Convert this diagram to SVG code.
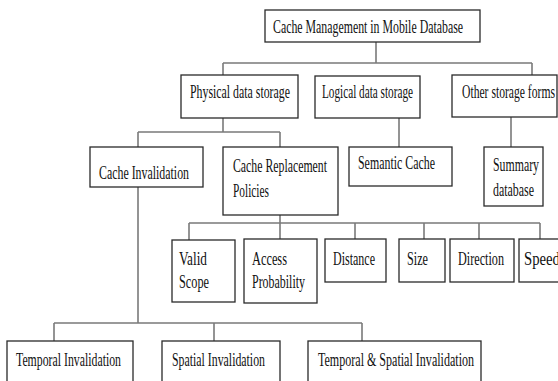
<svg xmlns="http://www.w3.org/2000/svg" width="558" height="381" viewBox="0 0 558 381">
<style>
.box{fill:#fff;stroke:#2a2a2a;stroke-width:1.3}
.con{fill:none;stroke:#7a7a7a;stroke-width:1.6}
text{font-family:"Liberation Serif","Times New Roman",serif;font-size:18px;fill:#111}
</style>
<rect width="558" height="381" fill="#fff"/>
<g id="connectors">
<path class="con" d="M376 42V63M223 63H532M223 63V75M532 63V75"/>
<path class="con" d="M223 118V132M138 132H280M138 132V147M280 132V147"/>
<path class="con" d="M399 118V147M511 117V147"/>
<path class="con" d="M280 215V223M189 223H540M189 223V240M280 223V239M355 223V239M424 223V239M479 223V239M540 223V239"/>
<path class="con" d="M138 187V323M54 323H362M54 323V341M214 323V341M362 323V341"/>
</g>
<g id="root"><rect class="box" x="265" y="10" width="215" height="32"/><text transform="translate(273,33) scale(.66,1)" textLength="287.9" lengthAdjust="spacingAndGlyphs">Cache Management in Mobile Database</text></g>
<g id="physical"><rect class="box" x="181" y="75" width="117" height="43"/><text transform="translate(190,98) scale(.66,1)" textLength="151.5" lengthAdjust="spacingAndGlyphs">Physical data storage</text></g>
<g id="logical"><rect class="box" x="315" y="76" width="105" height="42"/><text transform="translate(322,98) scale(.66,1)" textLength="137.9" lengthAdjust="spacingAndGlyphs">Logical data storage</text></g>
<g id="other"><rect class="box" x="452" y="75" width="105" height="42"/><text transform="translate(462,98) scale(.66,1)" textLength="140.9" lengthAdjust="spacingAndGlyphs">Other storage forms</text></g>
<g id="cache-invalidation"><rect class="box" x="90" y="147" width="113" height="40"/><text transform="translate(99,179) scale(.66,1)" textLength="136.4" lengthAdjust="spacingAndGlyphs">Cache Invalidation</text></g>
<g id="cache-replacement"><rect class="box" x="223" y="147" width="115" height="68"/><text transform="translate(233,172) scale(.66,1)" textLength="142.4" lengthAdjust="spacingAndGlyphs">Cache Replacement</text><text transform="translate(233,197) scale(.66,1)" textLength="54.5" lengthAdjust="spacingAndGlyphs">Policies</text></g>
<g id="semantic"><rect class="box" x="349" y="147" width="103" height="39"/><text transform="translate(358,169) scale(.66,1)" textLength="116.7" lengthAdjust="spacingAndGlyphs">Semantic Cache</text></g>
<g id="summary"><rect class="box" x="484" y="147" width="59" height="59"/><text transform="translate(493,171) scale(.66,1)" textLength="69.7" lengthAdjust="spacingAndGlyphs">Summary</text><text transform="translate(493,196) scale(.66,1)" textLength="62.1" lengthAdjust="spacingAndGlyphs">database</text></g>
<g id="valid-scope"><rect class="box" x="172" y="240" width="63" height="62"/><text transform="translate(179,265) scale(.66,1)" textLength="42.4" lengthAdjust="spacingAndGlyphs">Valid</text><text transform="translate(179,288) scale(.66,1)" textLength="45.5" lengthAdjust="spacingAndGlyphs">Scope</text></g>
<g id="access"><rect class="box" x="244" y="239" width="73" height="64"/><text transform="translate(252,265) scale(.66,1)" textLength="53" lengthAdjust="spacingAndGlyphs">Access</text><text transform="translate(252,288) scale(.66,1)" textLength="80.3" lengthAdjust="spacingAndGlyphs">Probability</text></g>
<g id="distance"><rect class="box" x="325" y="239" width="61" height="43"/><text transform="translate(333,265) scale(.66,1)" textLength="63.6" lengthAdjust="spacingAndGlyphs">Distance</text></g>
<g id="size"><rect class="box" x="399" y="239" width="46" height="43"/><text transform="translate(407,265) scale(.66,1)" textLength="31.8" lengthAdjust="spacingAndGlyphs">Size</text></g>
<g id="direction"><rect class="box" x="450" y="239" width="64" height="43"/><text transform="translate(458,265) scale(.66,1)" textLength="69.7" lengthAdjust="spacingAndGlyphs">Direction</text></g>
<g id="speed"><rect class="box" x="519" y="239" width="45" height="43"/><text transform="translate(524,265) scale(.66,1)" textLength="54.5" lengthAdjust="spacingAndGlyphs">Speed</text></g>
<g id="temporal"><rect class="box" x="7" y="341" width="126" height="50"/><text transform="translate(16,366) scale(.66,1)" textLength="159.1" lengthAdjust="spacingAndGlyphs">Temporal Invalidation</text></g>
<g id="spatial"><rect class="box" x="162" y="341" width="118" height="50"/><text transform="translate(172,366) scale(.66,1)" textLength="140.9" lengthAdjust="spacingAndGlyphs">Spatial Invalidation</text></g>
<g id="temporal-spatial"><rect class="box" x="308" y="341" width="173" height="50"/><text transform="translate(318,366) scale(.66,1)" textLength="236.4" lengthAdjust="spacingAndGlyphs">Temporal &amp; Spatial Invalidation</text></g>
</svg>
